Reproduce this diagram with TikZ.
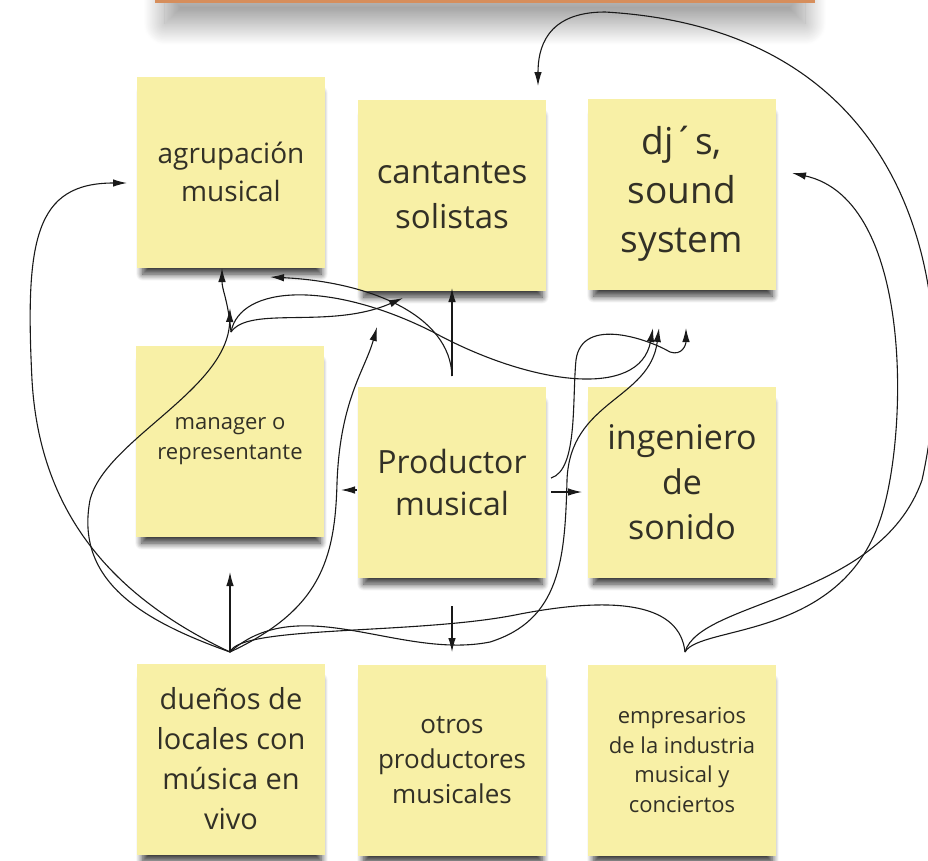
\documentclass[tikz,border=0pt]{standalone}
\usepackage{fontspec}
\setmainfont{Open Sans}
\usetikzlibrary{arrows.meta,shadows.blur}

\definecolor{postit}{RGB}{248,240,166}
\definecolor{ink}{RGB}{50,48,38}
\definecolor{banner}{RGB}{214,142,92}

\begin{document}
\begin{tikzpicture}[x=1pt,y=-1pt,
		sticky/.style={fill=postit, minimum width=188pt, minimum height=191pt, inner sep=0pt,
			align=center, text=ink,
			blur shadow={shadow xshift=1pt, shadow yshift=-12pt, shadow blur radius=7pt,
				shadow blur steps=12, shadow opacity=80, shadow scale=0.95}},
		link/.style={line width=1.1pt, draw=black!90, -{Latex[length=14pt,width=7.5pt]}},
		tie/.style={line width=1.1pt, draw=black!90}]
		\useasboundingbox (0,0) rectangle (928,860);
%		\draw[help lines,step=50] (0,0) grid (928,860);
		\path (231,172) coordinate (agrup_pos);
		\path (452,195) coordinate (cant_pos);
		\path (682,194) coordinate (djs_pos);
		\path (230,441) coordinate (mgr_pos);
		\path (452,482) coordinate (prod_pos);
		\path (682,482) coordinate (ing_pos);
		\path (231,759) coordinate (duenos_pos);
		\path (452,760) coordinate (otros_pos);
		\path (682,760) coordinate (empr_pos);

		\path (230,652) coordinate (duenos_hub);
		\path (685,652) coordinate (empr_hub);
		\path (231,332) coordinate (mgr_port);
		\path (230,572) coordinate (mgr_s);
		\path (341,490) coordinate (mgr_e);
		\path (452,376) coordinate (prod_n);
		\path (452,606) coordinate (prod_s);
		\path (551,492) coordinate (prod_e);
		\path (551,478) coordinate (prod_ne);
		\path (357,490) coordinate (prod_w);
		\path (582,492) coordinate (ing_w);
		\path (127,183) coordinate (agrup_w);
		\path (222,268) coordinate (agrup_s);
		\path (230,308) coordinate (agrup_s2);
		\path (270,277) coordinate (agrup_se);
		\path (538,86) coordinate (cant_n);
		\path (452,288) coordinate (cant_s);
		\path (403,298) coordinate (cant_sw);
		\path (377,327) coordinate (cant_sw2);
		\path (792,173) coordinate (djs_e);
		\path (653,328) coordinate (djs_s1);
		\path (659,328) coordinate (djs_s2);
		\path (686,328) coordinate (djs_s3);
		\path (452,652) coordinate (otros_n);

		\path[fill=banner, blur shadow={shadow xshift=0pt, shadow yshift=-22pt,
			shadow blur radius=22pt, shadow blur steps=40, shadow opacity=40,
			shadow scale=0.97}] (155,-30) rectangle (815,3);

		\node[sticky, font=\fontsize{28}{38}\selectfont] (agrup) at (agrup_pos) {agrupación\\musical};
		\node[sticky, font=\fontsize{33}{45}\selectfont] (cant) at (cant_pos) {cantantes\\solistas};
		\node[sticky, font=\fontsize{37}{49}\selectfont] (djs) at (djs_pos) {dj´s,\\sound\\system};
		\node[sticky, font=\fontsize{22}{30}\selectfont] (mgr) at (mgr_pos) {manager o\\representante};
		\node[sticky, font=\fontsize{32}{42}\selectfont] (prod) at (prod_pos) {Productor\\musical};
		\node[sticky, font=\fontsize{34}{45}\selectfont] (ing) at (ing_pos) {ingeniero\\de\\sonido};
		\node[sticky, font=\fontsize{29}{40}\selectfont] (duenos) at (duenos_pos) {dueños de\\locales con\\música en\\vivo};
		\node[sticky, font=\fontsize{26}{35}\selectfont] (otros) at (otros_pos) {otros\\productores\\musicales};
		\node[sticky, font=\fontsize{22}{29.5}\selectfont] (empr) at (empr_pos) {empresarios\\de la industria\\musical y\\conciertos};

		% dueños de locales
		\draw[link] (duenos_hub) -- (mgr_s);
		\draw[link] (duenos_hub) .. controls (120,600) and (40,520) .. (32,380)
			.. controls (25,240) and (35,183) .. (agrup_w);
		\draw[link] (duenos_hub) .. controls (140,620) and (75,580) .. (90,500)
			.. controls (105,440) and (228,390) .. (agrup_s2);
		\draw[link] (duenos_hub) .. controls (320,610) and (335,560) .. (337,483)
			.. controls (340,400) and (365,370) .. (cant_sw2);
		\draw[link] (duenos_hub) .. controls (300,590) and (400,660) .. (490,642)
			.. controls (560,620) and (565,560) .. (567,480)
			.. controls (570,400) and (650,400) .. (djs_s2);
		\draw[tie] (duenos_hub) .. controls (240,625) and (420,635) .. (520,614)
			.. controls (620,595) and (680,605) .. (empr_hub);

		% manager
		\draw[link] (mgr_port) .. controls (228,300) and (222,290) .. (agrup_s);
		\draw[link] (mgr_port) .. controls (250,305) and (330,330) .. (cant_sw);
		\draw[link] (mgr_port) .. controls (240,285) and (330,280) .. (433,332)
			.. controls (530,385) and (640,400) .. (djs_s1);

		% productor
		\draw[link] (prod_n) -- (cant_s);
		\draw[link] (prod_n) .. controls (450,315) and (370,282) .. (agrup_se);
		\draw[link] (prod_w) -- (mgr_e);
		\draw[link] (prod_e) -- (ing_w);
		\draw[link] (prod_s) -- (otros_n);
		\draw[link] (prod_ne) .. controls (578,470) and (572,400) .. (576,360)
			.. controls (582,315) and (650,340) .. (670,352)
			.. controls (682,356) and (686,345) .. (djs_s3);

		% empresarios
		\draw[link] (empr_hub) .. controls (700,625) and (840,640) .. (880,520)
			.. controls (908,440) and (915,200) .. (djs_e);
		\draw[link] (empr_hub) .. controls (700,600) and (880,600) .. (922,480)
			.. controls (962,300) and (920,30) .. (605,12)
			.. controls (545,12) and (538,50) .. (cant_n);
	\end{tikzpicture}
\end{document}
